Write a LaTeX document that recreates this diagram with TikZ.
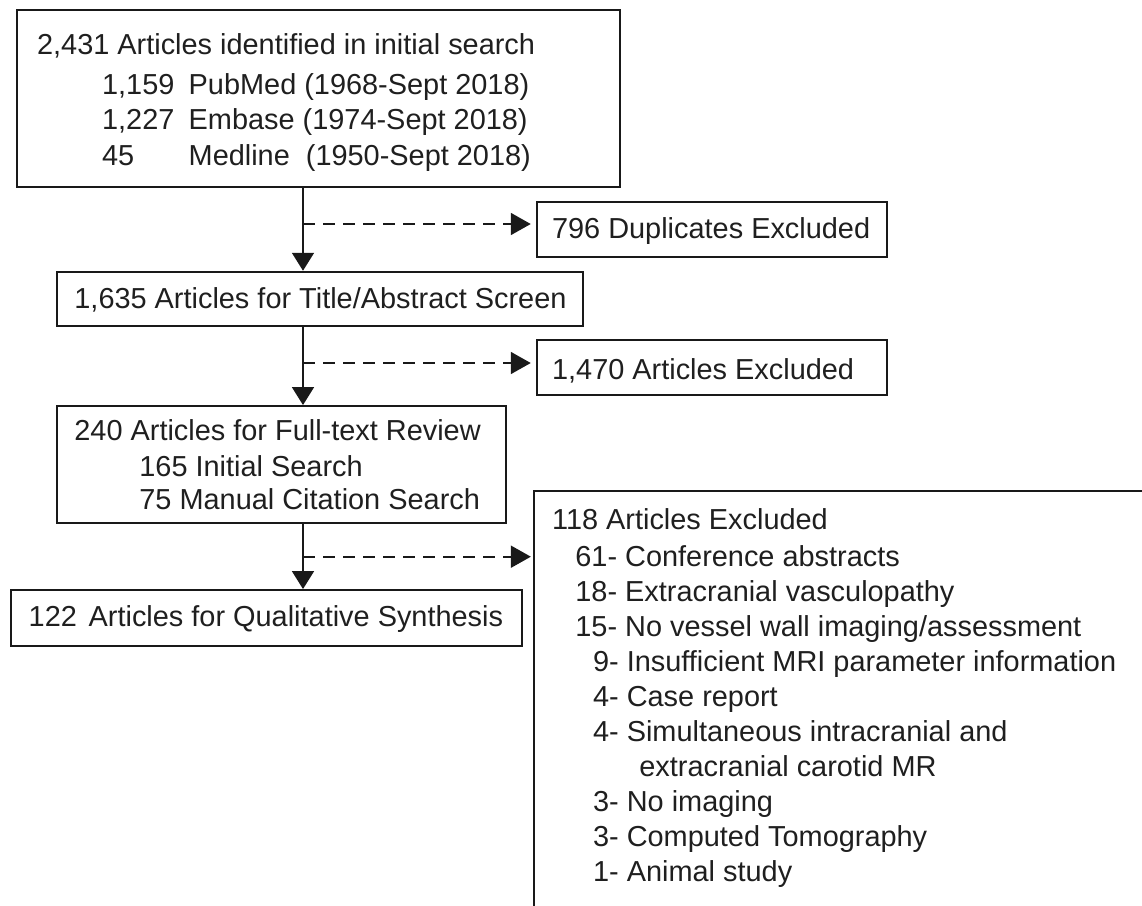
\documentclass[tikz,border=0pt]{standalone}
\usepackage{fontspec}
\setmainfont{Liberation Sans}
\usetikzlibrary{fit,arrows.meta}
\begin{document}
\begin{tikzpicture}[x=0.5pt,y=-0.5pt,
  box/.style={draw=black!90, line width=0.95pt, inner sep=0pt},
  txt/.style={anchor=base west, inner sep=0pt, font=\fontsize{14.45}{17}\selectfont, text=black!88},
  flow/.style={draw=black!90, line width=0.95pt, -{Triangle[length=9pt,width=11pt]}},
  side/.style={draw=black!90, line width=0.95pt, dash pattern=on 6pt off 4pt, -{Triangle[length=10pt,width=11pt]}}]
\useasboundingbox (0,0) rectangle (1142,906);
\clip (0,0) rectangle (1142,906);
% boxes
\node[box, fit={(16.7,10) (620,186.7)}] (search) {};
\node[box, fit={(536.7,201.7) (886.7,256.7)}] (dup) {};
\node[box, fit={(57,271.7) (582.7,326)}] (screen) {};
\node[box, fit={(536.7,340) (886.7,395)}] (absx) {};
\node[box, fit={(57,406) (506,523.3)}] (full) {};
\node[box, fit={(534,491) (1170,940)}] (ftx) {};
\node[box, fit={(11,590) (521.7,646)}] (qual) {};
% texts
\node[txt] (s1) at (36.7,54) {2,431 Articles identified in initial search};
\node[txt] (s2a) at (101.7,94) {1,159};
\node[txt] (s2b) at (188.3,94) {PubMed (1968-Sept 2018)};
\node[txt] (s3a) at (101.7,129.3) {1,227};
\node[txt] (s3b) at (188.3,129.3) {Embase (1974-Sept 2018)};
\node[txt] (s4a) at (101.7,165) {45};
\node[txt] (s4b) at (188.3,165) {Medline\ \ (1950-Sept 2018)};
\node[txt] (dupt) at (551.7,238.3) {796 Duplicates Excluded};
\node[txt] (scrt) at (74,308.3) {1,635 Articles for Title/Abstract Screen};
\node[txt] (abst) at (551.7,379.3) {1,470 Articles Excluded};
\node[txt] (f1) at (74,440.7) {240 Articles for Full-text Review};
\node[txt] (f2) at (139,476.7) {165 Initial Search};
\node[txt] (f3) at (139,509.3) {75 Manual Citation Search};
\node[txt] (qt) at (28.3,626.7) {122\hspace{5.9pt}Articles for Qualitative Synthesis};
\node[txt] (e0) at (551.7,529) {118 Articles Excluded};
\node[txt] (e1) at (575,566.5) {61- Conference abstracts};
\node[txt] (e2) at (575,601.5) {18- Extracranial vasculopathy};
\node[txt] (e3) at (575,636.5) {15- No vessel wall imaging/assessment};
\node[txt] (e4) at (592.7,671.5) {9- Insufficient MRI parameter information};
\node[txt] (e5) at (592.7,706) {4- Case report};
\node[txt] (e6) at (592.7,741) {4- Simultaneous intracranial and};
\node[txt] (e6b) at (639,776) {extracranial carotid MR};
\node[txt] (e7) at (592.7,811) {3- No imaging};
\node[txt] (e8) at (592.7,846) {3- Computed Tomography};
\node[txt] (e9) at (592.7,881) {1- Animal study};
% connectors
\coordinate (spine) at (303,0);
\coordinate (d1) at (303,224);
\coordinate (d2) at (303,363);
\coordinate (d3) at (303,556.7);
\draw[flow] (search.south -| spine) -- (screen.north -| spine);
\draw[flow] (screen.south -| spine) -- (full.north -| spine);
\draw[flow] (full.south -| spine) -- (qual.north -| spine);
\draw[side, shorten >=2.5pt] (d1) -- (d1 -| dup.west);
\draw[side, shorten >=2.5pt] (d2) -- (d2 -| absx.west);
\draw[side, shorten >=1.1pt] (d3) -- (d3 -| ftx.west);
\end{tikzpicture}
\end{document}
